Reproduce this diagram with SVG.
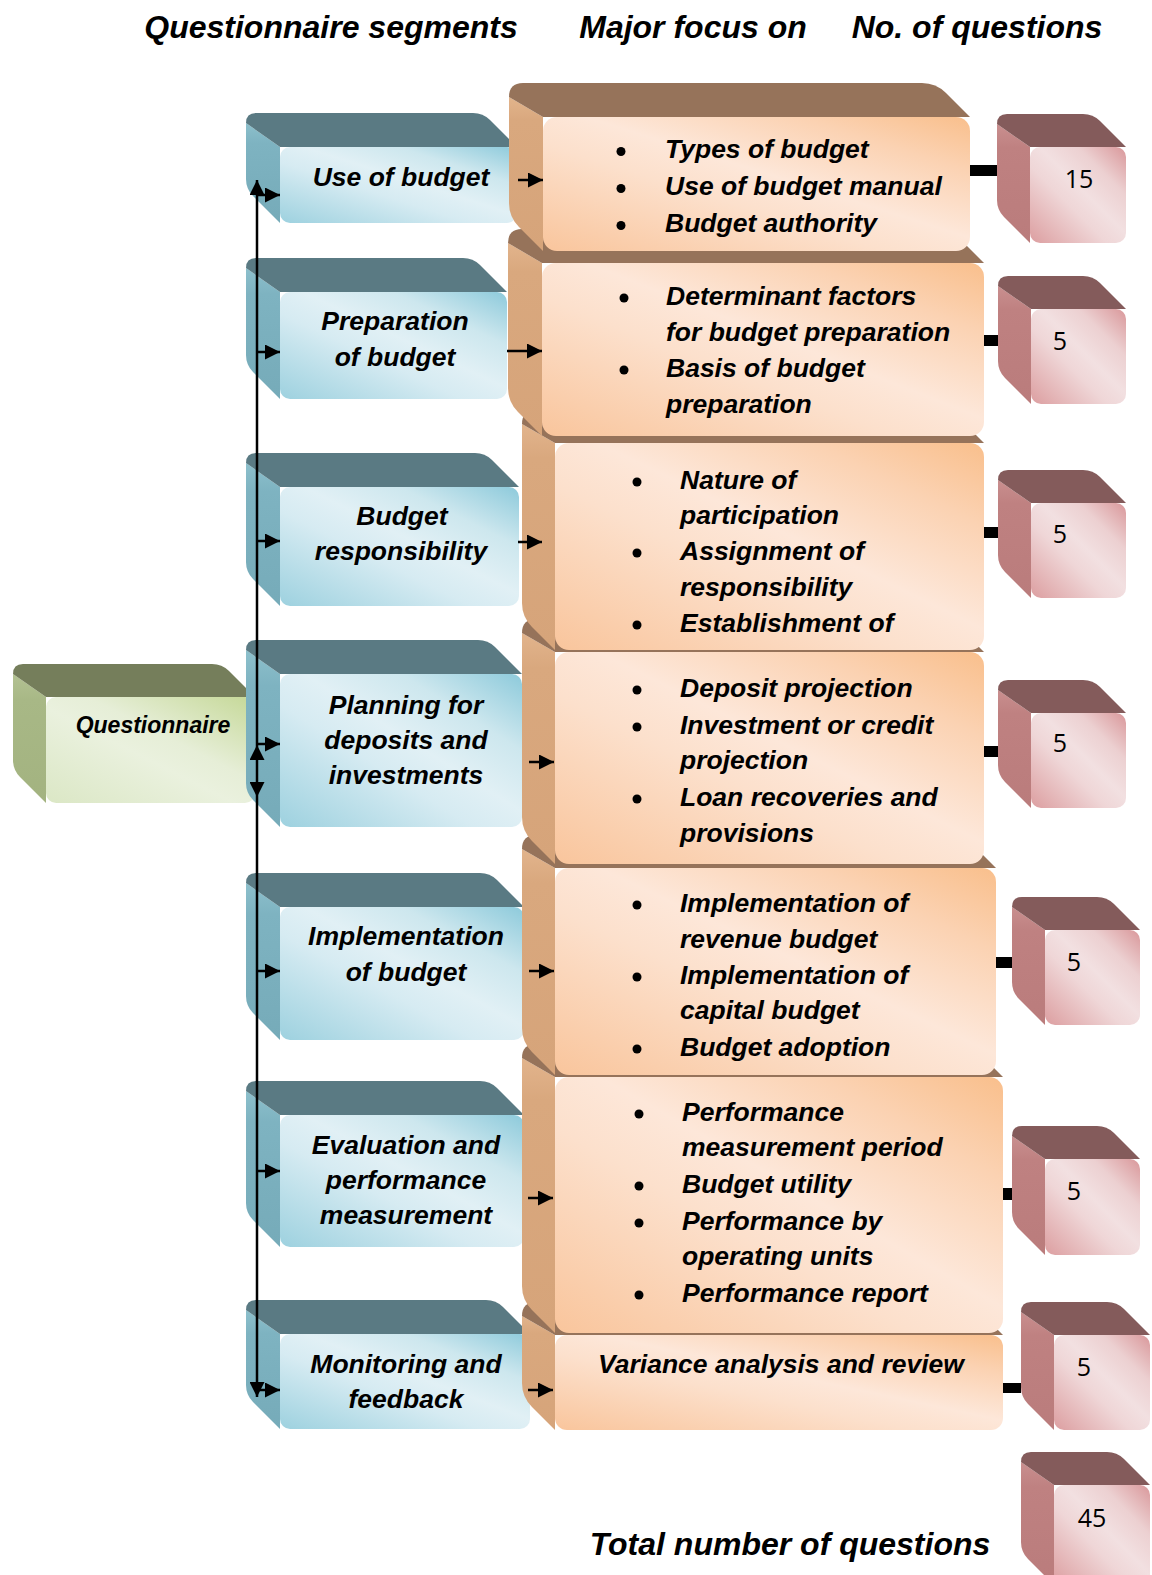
<svg xmlns="http://www.w3.org/2000/svg" width="1152" height="1575" viewBox="0 0 1152 1575">
<defs>
<linearGradient id="gBlue" x1="0" y1="1" x2="1" y2="0"><stop offset="0" stop-color="#9dd1df"/><stop offset="0.4" stop-color="#d6ebf2"/><stop offset="0.55" stop-color="#e1f0f5"/><stop offset="0.75" stop-color="#cde7ee"/><stop offset="1" stop-color="#8dcadb"/></linearGradient>
<linearGradient id="gOrange" x1="0" y1="1" x2="1" y2="0"><stop offset="0" stop-color="#f9c59c"/><stop offset="0.4" stop-color="#fce0cc"/><stop offset="0.55" stop-color="#fde7d9"/><stop offset="0.8" stop-color="#fbd2b2"/><stop offset="1" stop-color="#f9bf8c"/></linearGradient>
<linearGradient id="gPink" x1="0" y1="1" x2="1" y2="0"><stop offset="0" stop-color="#dc9ea0"/><stop offset="0.4" stop-color="#efd6d7"/><stop offset="0.55" stop-color="#f2e0e1"/><stop offset="0.75" stop-color="#ecd0d1"/><stop offset="1" stop-color="#d9979a"/></linearGradient>
<linearGradient id="gGreen" x1="0" y1="1" x2="1" y2="0"><stop offset="0" stop-color="#dbe7c5"/><stop offset="0.45" stop-color="#eaf1de"/><stop offset="0.6" stop-color="#e6eed7"/><stop offset="1" stop-color="#c5d897"/></linearGradient>
<linearGradient id="sBlue" x1="0" y1="0" x2="0" y2="1"><stop offset="0" stop-color="#8dc0cc"/><stop offset="0.2" stop-color="#7eb3c1"/><stop offset="1" stop-color="#76abb9"/></linearGradient>
<linearGradient id="sOrange" x1="0" y1="0" x2="0" y2="1"><stop offset="0" stop-color="#e2b48c"/><stop offset="0.15" stop-color="#d9a87e"/><stop offset="1" stop-color="#d6a47a"/></linearGradient>
<linearGradient id="sPink" x1="0" y1="0" x2="0" y2="1"><stop offset="0" stop-color="#c98f8f"/><stop offset="0.2" stop-color="#bf8181"/><stop offset="1" stop-color="#ba7c7c"/></linearGradient>
<linearGradient id="sGreen" x1="0" y1="0" x2="0" y2="1"><stop offset="0" stop-color="#b3c293"/><stop offset="0.2" stop-color="#a8b886"/><stop offset="1" stop-color="#a3b380"/></linearGradient>
<marker id="ah" viewBox="0 0 10 10" refX="10" refY="5" markerUnits="userSpaceOnUse" markerWidth="15" markerHeight="15" orient="auto"><path d="M0,0 L10,5 L0,10 Z" fill="#000"/></marker>
<style>
.blue .top{fill:#5a7a83}.blue .side{fill:url(#sBlue)}.blue .front{fill:url(#gBlue)}
.orange .top{fill:#96735a}.orange .side{fill:url(#sOrange)}.orange .front{fill:url(#gOrange)}
.pink .top{fill:#845b5b}.pink .side{fill:url(#sPink)}.pink .front{fill:url(#gPink)}
.green .top{fill:#757e5b}.green .side{fill:url(#sGreen)}.green .front{fill:url(#gGreen)}
text{font-family:"Liberation Sans",Arial,sans-serif;fill:#000}
.lbl{font-size:26.5px;font-weight:bold;font-style:italic;text-anchor:middle}
.item{font-size:26.5px;font-weight:bold;font-style:italic}
.num{font-family:"Open Sans","Noto Sans",sans-serif;font-size:25px;text-anchor:middle}
.hdr{font-size:32px;font-weight:bold;font-style:italic;text-anchor:middle}
.dot{fill:#000}
.conn line,.conn path{stroke:#000;stroke-width:2.5;fill:none}
.bar{fill:#000}
</style>
</defs>
<rect width="1152" height="1575" fill="#fff"/>

<g id="headers">
<text class="hdr" x="331" y="38">Questionnaire segments</text>
<text class="hdr" x="693" y="38">Major focus on</text>
<text class="hdr" x="977" y="38">No. of questions</text>
</g>

<g id="questionnaire" class="green">
<path class="side" d="M13,674 L46,697 V803 L20,777 Q13,770 13,760 Z"/>
<path class="top" d="M13,674 Q13,664 23,664 H212 Q222,664 229,671 L255,697 H46 Z"/>
<rect class="front" x="46" y="697" width="209" height="106" rx="10"/>
<text class="lbl" style="font-size:23px" x="153" y="733">Questionnaire</text>
</g>

<g id="seg1" class="blue">
<path class="side" d="M246,123 L280,147 V223 L253,196 Q246,189 246,179 Z"/>
<path class="top" d="M246,123 Q246,113 256,113 H473 Q483,113 490,120 L517,147 H280 Z"/>
<rect class="front" x="280" y="147" width="237" height="76" rx="10"/>
<text class="lbl" x="401" y="186">Use of budget</text>
</g>
<g id="seg2" class="blue">
<path class="side" d="M246,268 L280,292 V399 L253,372 Q246,365 246,355 Z"/>
<path class="top" d="M246,268 Q246,258 256,258 H463 Q473,258 480,265 L507,292 H280 Z"/>
<rect class="front" x="280" y="292" width="227" height="107" rx="10"/>
<text class="lbl" x="395" y="330">Preparation</text>
<text class="lbl" x="395" y="366">of budget</text>
</g>
<g id="seg3" class="blue">
<path class="side" d="M246,463 L280,487 V606 L253,579 Q246,572 246,562 Z"/>
<path class="top" d="M246,463 Q246,453 256,453 H475 Q485,453 492,460 L519,487 H280 Z"/>
<rect class="front" x="280" y="487" width="239" height="119" rx="10"/>
<text class="lbl" x="402" y="525">Budget</text>
<text class="lbl" x="401" y="560">responsibility</text>
</g>
<g id="seg4" class="blue">
<path class="side" d="M246,650 L280,674 V827 L253,800 Q246,793 246,783 Z"/>
<path class="top" d="M246,650 Q246,640 256,640 H478 Q488,640 495,647 L522,674 H280 Z"/>
<rect class="front" x="280" y="674" width="242" height="153" rx="10"/>
<text class="lbl" x="406" y="714">Planning for</text>
<text class="lbl" x="406" y="749">deposits and</text>
<text class="lbl" x="406" y="784">investments</text>
</g>
<g id="seg5" class="blue">
<path class="side" d="M246,883 L280,907 V1040 L253,1013 Q246,1006 246,996 Z"/>
<path class="top" d="M246,883 Q246,873 256,873 H480 Q490,873 497,880 L524,907 H280 Z"/>
<rect class="front" x="280" y="907" width="244" height="133" rx="10"/>
<text class="lbl" x="406" y="945">Implementation</text>
<text class="lbl" x="406" y="981">of budget</text>
</g>
<g id="seg6" class="blue">
<path class="side" d="M246,1091 L280,1115 V1247 L253,1220 Q246,1213 246,1203 Z"/>
<path class="top" d="M246,1091 Q246,1081 256,1081 H480 Q490,1081 497,1088 L524,1115 H280 Z"/>
<rect class="front" x="280" y="1115" width="244" height="132" rx="10"/>
<text class="lbl" x="406" y="1154">Evaluation and</text>
<text class="lbl" x="406" y="1189">performance</text>
<text class="lbl" x="406" y="1224">measurement</text>
</g>
<g id="seg7" class="blue">
<path class="side" d="M246,1310 L280,1334 V1429 L253,1402 Q246,1395 246,1385 Z"/>
<path class="top" d="M246,1310 Q246,1300 256,1300 H486 Q496,1300 503,1307 L530,1334 H280 Z"/>
<rect class="front" x="280" y="1334" width="250" height="95" rx="10"/>
<text class="lbl" x="406" y="1373">Monitoring and</text>
<text class="lbl" x="406" y="1408">feedback</text>
</g>

<g id="focus7" class="orange">
<path class="side" d="M522,1316 L555,1335 V1430 L532,1407 Q522,1397 522,1383 Z"/>
<path class="top" d="M522,1316 Q522,1302 536,1302 H956 Q970,1302 980,1312 L1003,1335 H555 Z"/>
<rect class="front" x="555" y="1335" width="448" height="95" rx="12"/>
<text class="lbl" x="781" y="1373">Variance analysis and review</text>
</g>
<g id="focus6" class="orange">
<path class="side" d="M522,1058 L555,1077 V1333 L532,1310 Q522,1300 522,1286 Z"/>
<path class="top" d="M522,1058 Q522,1044 536,1044 H956 Q970,1044 980,1054 L1003,1077 H555 Z"/>
<rect class="front" x="555" y="1077" width="448" height="256" rx="14"/>
<circle class="dot" cx="639" cy="1114" r="4.5"/>
<circle class="dot" cx="639" cy="1186" r="4.5"/>
<circle class="dot" cx="639" cy="1223" r="4.5"/>
<circle class="dot" cx="639" cy="1295" r="4.5"/>
<text class="item" x="682" y="1121">Performance</text>
<text class="item" x="682" y="1156">measurement period</text>
<text class="item" x="682" y="1193">Budget utility</text>
<text class="item" x="682" y="1230">Performance by</text>
<text class="item" x="682" y="1265">operating units</text>
<text class="item" x="682" y="1302">Performance report</text>
</g>
<g id="focus5" class="orange">
<path class="side" d="M522,849 L555,868 V1075 L532,1052 Q522,1042 522,1028 Z"/>
<path class="top" d="M522,849 Q522,835 536,835 H949 Q963,835 973,845 L996,868 H555 Z"/>
<rect class="front" x="555" y="868" width="441" height="207" rx="14"/>
<circle class="dot" cx="637" cy="905" r="4.5"/>
<circle class="dot" cx="637" cy="977" r="4.5"/>
<circle class="dot" cx="637" cy="1049" r="4.5"/>
<text class="item" x="680" y="912">Implementation of</text>
<text class="item" x="680" y="948">revenue budget</text>
<text class="item" x="680" y="984">Implementation of</text>
<text class="item" x="680" y="1019">capital budget</text>
<text class="item" x="680" y="1056">Budget adoption</text>
</g>
<g id="focus4" class="orange">
<path class="side" d="M522,633 L555,652 V864 L532,841 Q522,831 522,817 Z"/>
<path class="top" d="M522,633 Q522,619 536,619 H937 Q951,619 961,629 L984,652 H555 Z"/>
<rect class="front" x="555" y="652" width="429" height="212" rx="14"/>
<circle class="dot" cx="637" cy="690" r="4.5"/>
<circle class="dot" cx="637" cy="727" r="4.5"/>
<circle class="dot" cx="637" cy="799" r="4.5"/>
<text class="item" x="680" y="697">Deposit projection</text>
<text class="item" x="680" y="734">Investment or credit</text>
<text class="item" x="680" y="769">projection</text>
<text class="item" x="680" y="806">Loan recoveries and</text>
<text class="item" x="680" y="842">provisions</text>
</g>
<g id="focus3" class="orange">
<path class="side" d="M522,424 L555,443 V650 L532,627 Q522,617 522,603 Z"/>
<path class="top" d="M522,424 Q522,410 536,410 H937 Q951,410 961,420 L984,443 H555 Z"/>
<rect class="front" x="555" y="443" width="429" height="207" rx="14"/>
<circle class="dot" cx="637" cy="482" r="4.5"/>
<circle class="dot" cx="637" cy="553" r="4.5"/>
<circle class="dot" cx="637" cy="625" r="4.5"/>
<text class="item" x="680" y="489">Nature of</text>
<text class="item" x="680" y="524">participation</text>
<text class="item" x="680" y="560">Assignment of</text>
<text class="item" x="680" y="596">responsibility</text>
<text class="item" x="680" y="632">Establishment of</text>
</g>
<g id="focus2" class="orange">
<path class="side" d="M508,243 L542,263 V436 L518,412 Q508,402 508,388 Z"/>
<path class="top" d="M508,243 Q508,229 522,229 H936 Q950,229 960,239 L984,263 H542 Z"/>
<rect class="front" x="542" y="263" width="442" height="173" rx="14"/>
<circle class="dot" cx="624" cy="298" r="4.5"/>
<circle class="dot" cx="624" cy="370" r="4.5"/>
<text class="item" x="666" y="305">Determinant factors</text>
<text class="item" x="666" y="341">for budget preparation</text>
<text class="item" x="666" y="377">Basis of budget</text>
<text class="item" x="666" y="413">preparation</text>
</g>
<g id="focus1" class="orange">
<path class="side" d="M509,97 L543,117 V251 L519,227 Q509,217 509,203 Z"/>
<path class="top" d="M509,97 Q509,83 523,83 H922 Q936,83 946,93 L970,117 H543 Z"/>
<rect class="front" x="543" y="117" width="427" height="134" rx="14"/>
<circle class="dot" cx="621" cy="151.5" r="4.5"/>
<circle class="dot" cx="621" cy="188.5" r="4.5"/>
<circle class="dot" cx="621" cy="225.5" r="4.5"/>
<text class="item" x="665" y="158">Types of budget</text>
<text class="item" x="665" y="195">Use of budget manual</text>
<text class="item" x="665" y="232">Budget authority</text>
</g>

<g id="count1" class="pink">
<path class="side" d="M997,124 L1030,147 V243 L1004,217 Q997,210 997,200 Z"/>
<path class="top" d="M997,124 Q997,114 1007,114 H1083 Q1093,114 1100,121 L1126,147 H1030 Z"/>
<rect class="front" x="1030" y="147" width="96" height="96" rx="10"/>
<text class="num" x="1079" y="188">15</text>
</g>
<g id="count2" class="pink">
<path class="side" d="M998,286 L1031,309 V404 L1005,378 Q998,371 998,361 Z"/>
<path class="top" d="M998,286 Q998,276 1008,276 H1083 Q1093,276 1100,283 L1126,309 H1031 Z"/>
<rect class="front" x="1031" y="309" width="95" height="95" rx="10"/>
<text class="num" x="1060" y="350">5</text>
</g>
<g id="count3" class="pink">
<path class="side" d="M998,480 L1031,503 V598 L1005,572 Q998,565 998,555 Z"/>
<path class="top" d="M998,480 Q998,470 1008,470 H1083 Q1093,470 1100,477 L1126,503 H1031 Z"/>
<rect class="front" x="1031" y="503" width="95" height="95" rx="10"/>
<text class="num" x="1060" y="543">5</text>
</g>
<g id="count4" class="pink">
<path class="side" d="M998,690 L1031,713 V808 L1005,782 Q998,775 998,765 Z"/>
<path class="top" d="M998,690 Q998,680 1008,680 H1083 Q1093,680 1100,687 L1126,713 H1031 Z"/>
<rect class="front" x="1031" y="713" width="95" height="95" rx="10"/>
<text class="num" x="1060" y="752">5</text>
</g>
<g id="count5" class="pink">
<path class="side" d="M1012,907 L1045,930 V1025 L1019,999 Q1012,992 1012,982 Z"/>
<path class="top" d="M1012,907 Q1012,897 1022,897 H1097 Q1107,897 1114,904 L1140,930 H1045 Z"/>
<rect class="front" x="1045" y="930" width="95" height="95" rx="10"/>
<text class="num" x="1074" y="971">5</text>
</g>
<g id="count6" class="pink">
<path class="side" d="M1012,1136 L1045,1159 V1255 L1019,1229 Q1012,1222 1012,1212 Z"/>
<path class="top" d="M1012,1136 Q1012,1126 1022,1126 H1097 Q1107,1126 1114,1133 L1140,1159 H1045 Z"/>
<rect class="front" x="1045" y="1159" width="95" height="96" rx="10"/>
<text class="num" x="1074" y="1200">5</text>
</g>
<g id="count7" class="pink">
<path class="side" d="M1021,1312 L1054,1335 V1430 L1028,1404 Q1021,1397 1021,1387 Z"/>
<path class="top" d="M1021,1312 Q1021,1302 1031,1302 H1107 Q1117,1302 1124,1309 L1150,1335 H1054 Z"/>
<rect class="front" x="1054" y="1335" width="96" height="95" rx="10"/>
<text class="num" x="1084" y="1376">5</text>
</g>
<g id="total" class="pink">
<path class="side" d="M1021,1462 L1054,1485 V1585 L1028,1559 Q1021,1552 1021,1542 Z"/>
<path class="top" d="M1021,1462 Q1021,1452 1031,1452 H1107 Q1117,1452 1124,1459 L1150,1485 H1054 Z"/>
<rect class="front" x="1054" y="1485" width="96" height="100" rx="10"/>
<text class="num" x="1092" y="1527">45</text>
</g>

<g id="connectors" class="conn">
<path d="M257,770 V745" marker-end="url(#ah)"/>
<path d="M257,770 V797" marker-end="url(#ah)"/>
<path d="M257,745 V180" marker-end="url(#ah)"/>
<path d="M257,797 V1397" marker-end="url(#ah)"/>
<line x1="257" y1="195" x2="280" y2="195" marker-end="url(#ah)"/>
<line x1="257" y1="352" x2="280" y2="352" marker-end="url(#ah)"/>
<line x1="257" y1="541" x2="280" y2="541" marker-end="url(#ah)"/>
<line x1="257" y1="744" x2="280" y2="744" marker-end="url(#ah)"/>
<line x1="257" y1="971" x2="280" y2="971" marker-end="url(#ah)"/>
<line x1="257" y1="1171" x2="280" y2="1171" marker-end="url(#ah)"/>
<line x1="257" y1="1390" x2="280" y2="1390" marker-end="url(#ah)"/>
<line x1="518" y1="180" x2="543" y2="180" marker-end="url(#ah)"/>
<line x1="507" y1="351" x2="542" y2="351" marker-end="url(#ah)"/>
<line x1="518" y1="542" x2="542" y2="542" marker-end="url(#ah)"/>
<line x1="529" y1="762" x2="554" y2="762" marker-end="url(#ah)"/>
<line x1="529" y1="971" x2="554" y2="971" marker-end="url(#ah)"/>
<line x1="528" y1="1198" x2="553" y2="1198" marker-end="url(#ah)"/>
<line x1="528" y1="1390" x2="553" y2="1390" marker-end="url(#ah)"/>
<rect class="bar" x="970" y="165" width="27" height="11"/>
<rect class="bar" x="984" y="335" width="14" height="11"/>
<rect class="bar" x="984" y="527" width="14" height="11"/>
<rect class="bar" x="984" y="746" width="14" height="11"/>
<rect class="bar" x="996" y="957" width="16" height="11"/>
<rect class="bar" x="1003" y="1188" width="9" height="12"/>
<rect class="bar" x="1003" y="1383" width="18" height="10"/>
</g>

<text class="hdr" x="790" y="1555">Total number of questions</text>
</svg>
